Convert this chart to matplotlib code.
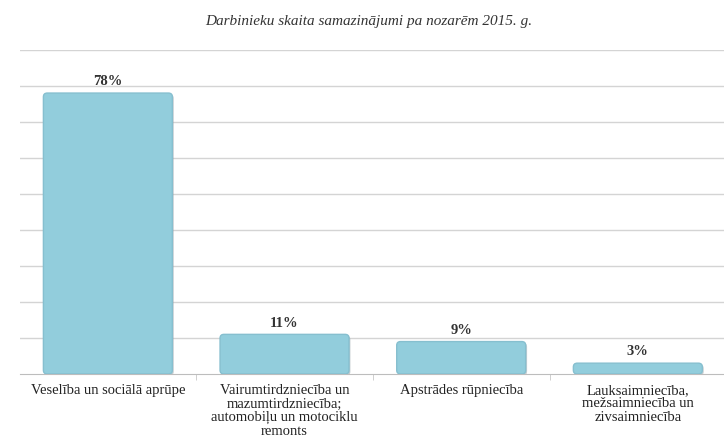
import numpy as np
import matplotlib.pyplot as plt
from matplotlib.patches import FancyBboxPatch

# data
categories = [
    'Veselība un sociālā aprūpe',
    'Vairumtirdzniecība un\nmazumtirdzniecība;\nautomobiļu un motociklu\nremonts',
    'Apstrādes rūpniecība',
    'Lauksaimniecība,\nmežsaimniecība un\nzivsaimniecība',
]
shares = [78, 11, 9, 3]
value_labels = ['78%', '11%', '9%', '3%']
title = 'Darbinieku skaita samazinājumi pa nozarēm 2015. g.'

plt.rcParams['font.family'] = ['Liberation Serif', 'DejaVu Serif']

fig = plt.figure(figsize=(7.24, 4.41), dpi=100)
ax = fig.add_axes([0.027, 0.152, 0.976, 0.735])

x = np.arange(len(categories))
bars = ax.bar(x, shares, width=0.73, color='#92cddc')

# swap plain rectangles for rounded ones with a soft shadow
for rect in bars:
    bx, by = rect.get_x(), rect.get_y()
    bw, bh = rect.get_width(), rect.get_height()
    rect.set_visible(False)
    shadow = FancyBboxPatch((bx + 0.008, by - 0.4), bw, bh,
                            boxstyle='round,pad=0,rounding_size=0.022',
                            mutation_aspect=48, facecolor='#9aa7ad',
                            edgecolor='none', alpha=0.55, zorder=2)
    patch = FancyBboxPatch((bx, by), bw, bh,
                           boxstyle='round,pad=0,rounding_size=0.022',
                           mutation_aspect=48, facecolor='#92cddc',
                           edgecolor='#86bfcf', linewidth=1.0, zorder=3)
    ax.add_patch(shadow)
    ax.add_patch(patch)

for xi, v, lbl in zip(x, shares, value_labels):
    ax.text(xi, v + 1.3, lbl, ha='center', va='bottom', fontsize=10.5,
            fontweight='bold', color='#333333', zorder=4)

ax.set_xlim(-0.5, len(categories) - 0.5)
ax.set_ylim(0, 90)
ax.set_yticks(np.arange(10, 91, 10))
ax.yaxis.grid(True, color='#d4d4d4', linewidth=1.0)
ax.set_axisbelow(True)
ax.tick_params(axis='y', left=False, labelleft=False)

ax.set_xticks(x)
ax.set_xticklabels(categories, fontsize=10.5, color='#222222', linespacing=1.08)
ax.tick_params(axis='x', length=0, pad=7)
ax.set_xticks(np.arange(0.5, len(categories) - 0.5, 1), minor=True)
ax.tick_params(axis='x', which='minor', length=4, color='#c8c8c8')

for side in ['top', 'right', 'left']:
    ax.spines[side].set_visible(False)
ax.spines['bottom'].set_color('#bdbdbd')

fig.text(0.509, 0.952, title, ha='center', va='center', fontsize=11,
         style='italic', color='#333333')

fig.savefig('out.png', dpi=100)
